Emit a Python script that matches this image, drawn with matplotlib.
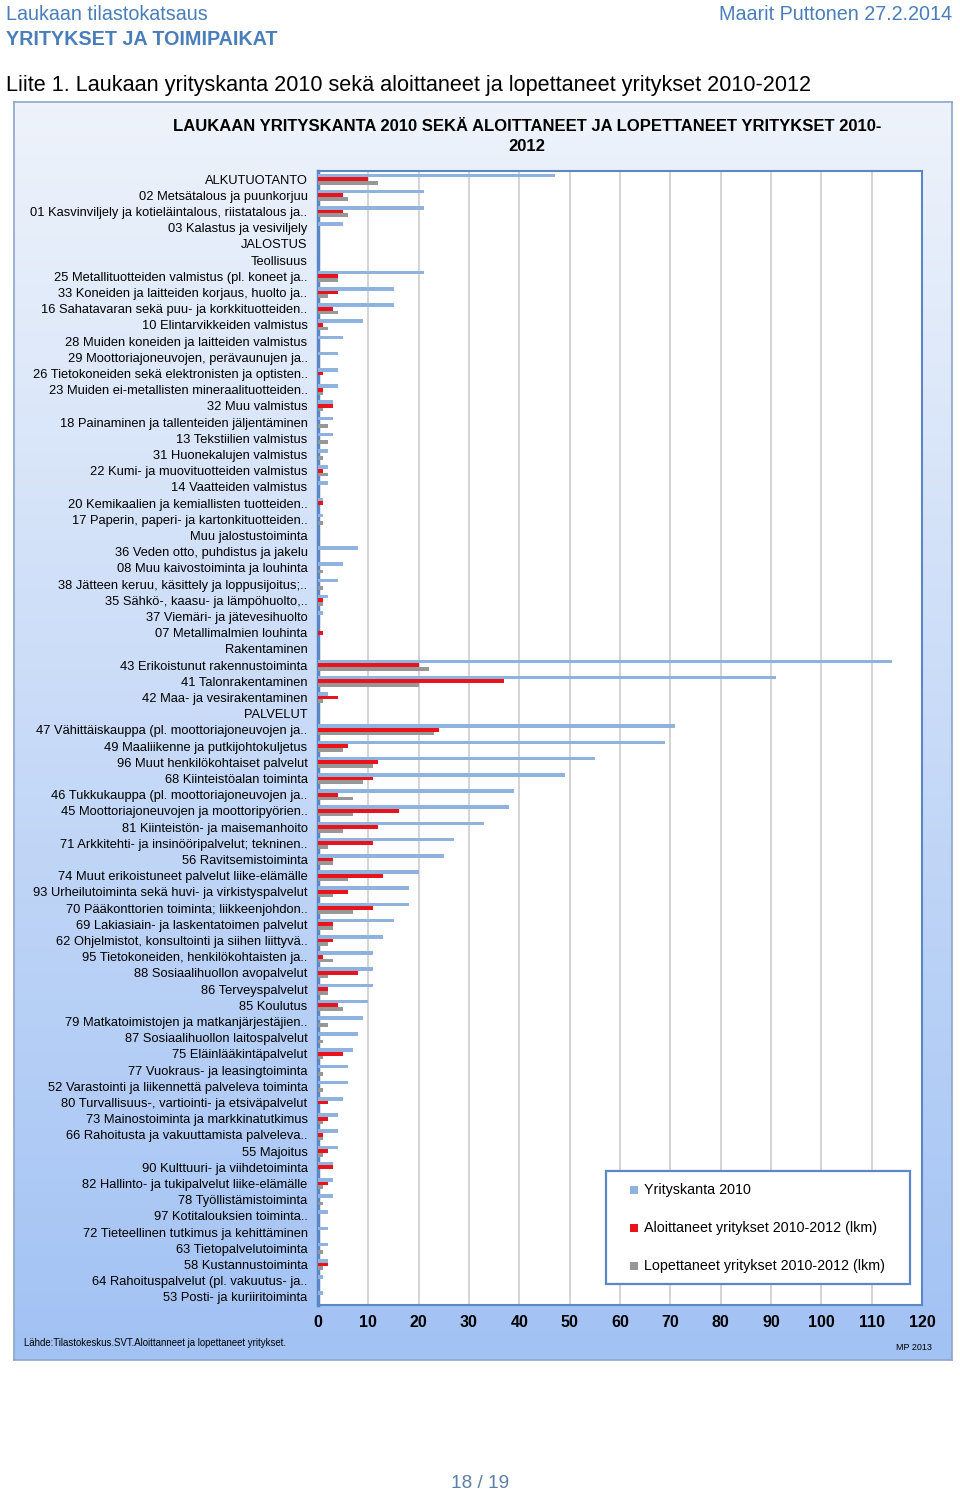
import matplotlib

matplotlib.use("Agg")

import matplotlib.pyplot as plt  # noqa: E402
import numpy as np  # noqa: E402
from matplotlib.colors import LinearSegmentedColormap  # noqa: E402
from matplotlib.patches import Rectangle  # noqa: E402

# --- data ---
categories = [
    "ALKUTUOTANTO",
    "02 Metsätalous ja puunkorjuu",
    "01 Kasvinviljely ja kotieläintalous, riistatalous ja..",
    "03 Kalastus ja vesiviljely",
    "JALOSTUS",
    "Teollisuus",
    "25 Metallituotteiden valmistus (pl. koneet ja..",
    "33 Koneiden ja laitteiden korjaus, huolto ja..",
    "16 Sahatavaran sekä puu- ja korkkituotteiden..",
    "10 Elintarvikkeiden valmistus",
    "28 Muiden koneiden ja laitteiden valmistus",
    "29 Moottoriajoneuvojen, perävaunujen ja..",
    "26 Tietokoneiden sekä elektronisten ja optisten..",
    "23 Muiden ei-metallisten mineraalituotteiden..",
    "32 Muu valmistus",
    "18 Painaminen ja tallenteiden jäljentäminen",
    "13 Tekstiilien valmistus",
    "31 Huonekalujen valmistus",
    "22 Kumi- ja muovituotteiden valmistus",
    "14 Vaatteiden valmistus",
    "20 Kemikaalien ja kemiallisten tuotteiden..",
    "17 Paperin, paperi- ja kartonkituotteiden..",
    "Muu jalostustoiminta",
    "36 Veden otto, puhdistus ja jakelu",
    "08 Muu kaivostoiminta ja louhinta",
    "38 Jätteen keruu, käsittely ja loppusijoitus;..",
    "35 Sähkö-, kaasu- ja lämpöhuolto,..",
    "37 Viemäri- ja jätevesihuolto",
    "07 Metallimalmien louhinta",
    "Rakentaminen",
    "43 Erikoistunut rakennustoiminta",
    "41 Talonrakentaminen",
    "42 Maa- ja vesirakentaminen",
    "PALVELUT",
    "47 Vähittäiskauppa (pl. moottoriajoneuvojen ja..",
    "49 Maaliikenne ja putkijohtokuljetus",
    "96 Muut henkilökohtaiset palvelut",
    "68 Kiinteistöalan toiminta",
    "46 Tukkukauppa (pl. moottoriajoneuvojen ja..",
    "45 Moottoriajoneuvojen ja moottoripyörien..",
    "81 Kiinteistön- ja maisemanhoito",
    "71 Arkkitehti- ja insinööripalvelut; tekninen..",
    "56 Ravitsemistoiminta",
    "74 Muut erikoistuneet palvelut liike-elämälle",
    "93 Urheilutoiminta sekä huvi- ja virkistyspalvelut",
    "70 Pääkonttorien toiminta; liikkeenjohdon..",
    "69 Lakiasiain- ja laskentatoimen palvelut",
    "62 Ohjelmistot, konsultointi ja siihen liittyvä..",
    "95 Tietokoneiden, henkilökohtaisten ja..",
    "88 Sosiaalihuollon avopalvelut",
    "86 Terveyspalvelut",
    "85 Koulutus",
    "79 Matkatoimistojen ja matkanjärjestäjien..",
    "87 Sosiaalihuollon laitospalvelut",
    "75 Eläinlääkintäpalvelut",
    "77 Vuokraus- ja leasingtoiminta",
    "52 Varastointi ja liikennettä palveleva toiminta",
    "80 Turvallisuus-, vartiointi- ja etsiväpalvelut",
    "73 Mainostoiminta ja markkinatutkimus",
    "66 Rahoitusta ja vakuuttamista palveleva..",
    "55 Majoitus",
    "90 Kulttuuri- ja viihdetoiminta",
    "82 Hallinto- ja tukipalvelut liike-elämälle",
    "78 Työllistämistoiminta",
    "97 Kotitalouksien toiminta..",
    "72 Tieteellinen tutkimus ja kehittäminen",
    "63 Tietopalvelutoiminta",
    "58 Kustannustoiminta",
    "64 Rahoituspalvelut (pl. vakuutus- ja..",
    "53 Posti- ja kuriiritoiminta",
]

yrityskanta_2010 = [
    47, 21, 21, 5, 0, 0, 21, 15, 15, 9, 5, 4, 4, 4, 3, 3, 3, 2, 2, 2, 1, 1, 0,
    8, 5, 4, 2, 1, 0, 0, 114, 91, 2, 0, 71, 69, 55, 49, 39, 38, 33, 27, 25,
    20, 18, 18, 15, 13, 11, 11, 11, 10, 9, 8, 7, 6, 6, 5, 4, 4, 4, 3, 3, 3,
    2, 2, 2, 2, 1, 1,
]
aloittaneet = [
    10, 5, 5, 0, 0, 0, 4, 4, 3, 1, 0, 0, 1, 1, 3, 0, 0, 0, 1, 0, 1, 0, 0,
    0, 0, 0, 1, 0, 1, 0, 20, 37, 4, 0, 24, 6, 12, 11, 4, 16, 12, 11, 3,
    13, 6, 11, 3, 3, 1, 8, 2, 4, 0, 0, 5, 0, 0, 2, 2, 1, 2, 3, 2, 0,
    0, 0, 0, 2, 0, 0,
]
lopettaneet = [
    12, 6, 6, 0, 0, 0, 4, 2, 4, 2, 0, 0, 0, 1, 1, 2, 2, 1, 2, 0, 0, 1, 0,
    0, 1, 1, 1, 0, 0, 0, 22, 20, 1, 0, 23, 5, 11, 9, 7, 7, 5, 2, 3,
    6, 3, 7, 3, 2, 3, 2, 2, 5, 2, 1, 1, 1, 1, 0, 1, 1, 1, 0, 1, 1,
    0, 0, 1, 1, 0, 0,
]
series_labels = [
    "Yrityskanta 2010",
    "Aloittaneet yritykset 2010-2012 (lkm)",
    "Lopettaneet yritykset 2010-2012 (lkm)",
]
x_ticks = list(range(0, 121, 10))

# --- style ---
W, H = 960, 1496
_BLUE = "#8fb2de"
_RED = "#e8131b"
_GRAY = "#979797"
_COLORS = [_BLUE, _RED, _GRAY]
_FRAME = "#5b87c4"
_HEAD = "#4a7ebb"

plt.rcParams.update({
    "font.family": ["Liberation Sans", "DejaVu Sans"],
    "font.size": 9,
    "figure.dpi": 100,
})


def fx(x):
    return x / W


def fy(y):
    return 1 - y / H


fig = plt.figure(figsize=(W / 100, H / 100), facecolor="white")

# page header / footer
fig.text(fx(6), fy(14), "Laukaan tilastokatsaus", color=_HEAD, fontsize=14.2, va="center")
fig.text(fx(6), fy(39.5), "YRITYKSET JA TOIMIPAIKAT", color=_HEAD, fontsize=14.2,
         fontweight="bold", va="center")
fig.text(fx(952), fy(14), "Maarit Puttonen 27.2.2014", color=_HEAD, fontsize=14.2,
         ha="right", va="center")
fig.text(fx(6), fy(86),
         "Liite 1. Laukaan yrityskanta 2010 sekä aloittaneet ja lopettaneet yritykset 2010-2012",
         color="black", fontsize=15.6, va="center")
fig.text(fx(480), fy(1484), "18 / 19", color="#5b7fa6", fontsize=13.7, ha="center", va="center")

# chart frame with vertical gradient
bg = fig.add_axes([fx(14), fy(1360), fx(952 - 14), (1360 - 102) / H], zorder=0)
grad = LinearSegmentedColormap.from_list("frame", ["#eef3fb", "#a2c2f4"])
bg.imshow(np.linspace(0, 1, 256).reshape(-1, 1), cmap=grad, aspect="auto",
          extent=(0, 1, 0, 1), origin="upper")
bg.set_xticks([])
bg.set_yticks([])
for s in bg.spines.values():
    s.set_color("#8ea6c8")
    s.set_linewidth(1.2)

fig.text(fx(527), fy(136.5),
         "LAUKAAN YRITYSKANTA 2010 SEKÄ ALOITTANEET JA LOPETTANEET YRITYKSET 2010-\n2012",
         fontsize=12, fontweight="bold", ha="center", va="center", linespacing=1.36,
         zorder=3)
fig.text(fx(24), fy(1343), "Lähde:Tilastokeskus.SVT.Aloittanneet ja lopettaneet yritykset.",
         fontsize=6.9, va="center", zorder=3)
fig.text(fx(932), fy(1347), "MP 2013", fontsize=6.5, ha="right", va="center", zorder=3)

# plot area
ax = fig.add_axes([fx(318), fy(1305), fx(922 - 318), (1305 - 171) / H], zorder=2)
ax.set_facecolor("white")
y = np.arange(len(categories))
h = 0.23
for k, vals in enumerate([yrityskanta_2010, aloittaneet, lopettaneet]):
    ax.barh(y + (k - 1) * h, vals, height=h, color=_COLORS[k], zorder=3)

ax.set_ylim(len(categories) - 0.5, -0.5)
ax.set_yticks(y)
ax.set_yticklabels(categories, fontsize=9.3)
ax.set_xlim(0, 120)
ax.set_xticks(x_ticks)
ax.set_xticklabels([str(t) for t in x_ticks], fontsize=11.5, fontweight="bold")
ax.tick_params(axis="y", length=0, pad=7.5)
ax.tick_params(axis="x", length=0, pad=7.5)
ax.grid(axis="x", color="#d4d4d4", linewidth=1.4, zorder=0)
ax.set_axisbelow(True)
for s in ax.spines.values():
    s.set_color(_FRAME)
    s.set_linewidth(1.5)
ax.spines["left"].set_linewidth(2.5)

# legend box (drawn in figure pixels to match the original layout)
fig.patches.append(Rectangle((fx(606), fy(1284)), fx(910 - 606), (1284 - 1171) / H,
                             transform=fig.transFigure, facecolor="white",
                             edgecolor=_FRAME, linewidth=1.6, zorder=4))
for k, label in enumerate(series_labels):
    yc = 1190 + 38 * k
    fig.patches.append(Rectangle((fx(630), fy(yc + 4)), fx(8), 8 / H,
                                 transform=fig.transFigure, facecolor=_COLORS[k],
                                 edgecolor="none", zorder=5))
    fig.text(fx(644), fy(yc), label, fontsize=10.3, va="center", zorder=6)

fig.savefig("out.png", dpi=100, facecolor="white")
